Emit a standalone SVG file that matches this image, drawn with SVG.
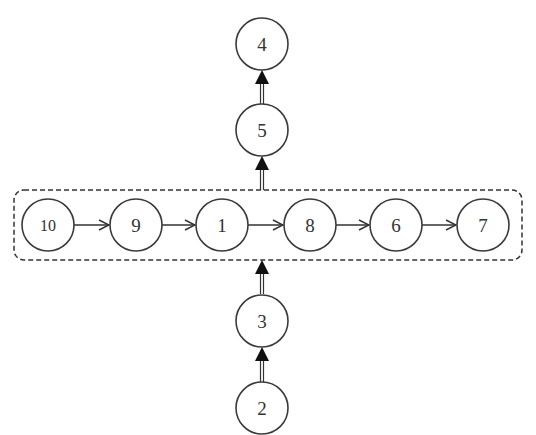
<svg xmlns="http://www.w3.org/2000/svg" width="536" height="435" viewBox="0 0 536 435">
<defs>
<style>
.n circle{fill:#fff;stroke:#3a3a3a;stroke-width:1.6}
.n text{font-family:"Liberation Serif","DejaVu Serif",serif;font-size:19px;fill:#333;text-anchor:middle;dominant-baseline:central}
.e{stroke:#333;stroke-width:1.5;fill:none}
.d{stroke:#333;stroke-width:1.2;fill:none}
</style>
<marker id="open" viewBox="0 0 12 12" refX="11" refY="6" markerWidth="12" markerHeight="12" markerUnits="userSpaceOnUse" orient="auto">
<path d="M1,1 L11,6 L1,11" fill="none" stroke="#333" stroke-width="1.5"/>
</marker>
<path id="tri" d="M0,0 L-7,14 L7,14 Z" fill="#111"/>
</defs>
<rect x="14" y="190" width="508" height="70" rx="10" ry="10" fill="none" stroke="#333" stroke-width="1.5" stroke-dasharray="5,3"/>
<g id="connectors">
<line class="e" x1="74" y1="225" x2="109" y2="225" marker-end="url(#open)"/>
<line class="e" x1="162" y1="225" x2="195" y2="225" marker-end="url(#open)"/>
<line class="e" x1="248" y1="225" x2="283" y2="225" marker-end="url(#open)"/>
<line class="e" x1="336" y1="225" x2="369" y2="225" marker-end="url(#open)"/>
<line class="e" x1="422" y1="225" x2="456" y2="225" marker-end="url(#open)"/>
<g>
<line class="d" x1="260.5" y1="105" x2="260.5" y2="82"/><line class="d" x1="263.5" y1="105" x2="263.5" y2="82"/>
<use href="#tri" x="262" y="70"/>
</g>
<g>
<line class="d" x1="260.5" y1="190" x2="260.5" y2="168"/><line class="d" x1="263.5" y1="190" x2="263.5" y2="168"/>
<use href="#tri" x="262" y="156"/>
</g>
<g>
<line class="d" x1="260.5" y1="294" x2="260.5" y2="272"/><line class="d" x1="263.5" y1="294" x2="263.5" y2="272"/>
<use href="#tri" x="262" y="260"/>
</g>
<g>
<line class="d" x1="260.5" y1="382" x2="260.5" y2="359"/><line class="d" x1="263.5" y1="382" x2="263.5" y2="359"/>
<use href="#tri" x="262" y="347"/>
</g>
</g>
<g id="n10" class="n"><circle cx="48" cy="225" r="26"/><text x="48" y="225" style="font-size:16px">10</text></g>
<g id="n9" class="n"><circle cx="136" cy="225" r="26"/><text x="136" y="225">9</text></g>
<g id="n1" class="n"><circle cx="222" cy="225" r="26"/><text x="222" y="225">1</text></g>
<g id="n8" class="n"><circle cx="310" cy="225" r="26"/><text x="310" y="225">8</text></g>
<g id="n6" class="n"><circle cx="396" cy="225" r="26"/><text x="396" y="225">6</text></g>
<g id="n7" class="n"><circle cx="483" cy="225" r="26"/><text x="483" y="225">7</text></g>
<g id="n4" class="n"><circle cx="262" cy="44" r="26"/><text x="262" y="44">4</text></g>
<g id="n5" class="n"><circle cx="262" cy="130" r="26"/><text x="262" y="130">5</text></g>
<g id="n3" class="n"><circle cx="262" cy="321" r="26"/><text x="262" y="321">3</text></g>
<g id="n2" class="n"><circle cx="262" cy="408" r="26"/><text x="262" y="408">2</text></g>
</svg>
